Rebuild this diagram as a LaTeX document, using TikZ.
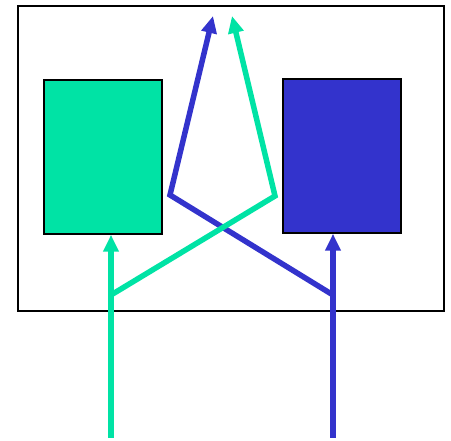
\documentclass[tikz,border=0pt]{standalone}
\usetikzlibrary{arrows.meta}
\definecolor{mint}{HTML}{00E3A5}
\definecolor{indigo}{HTML}{3333CC}
\tikzset{
  box/.style={draw=black, line width=1.5pt, minimum width=118pt, minimum height=154pt, inner sep=0pt},
  wire/.style={line width=5.5pt},
  tip/.style={-{Triangle[width=15pt,length=17pt]}}
}
\begin{document}
\begin{tikzpicture}[x=1pt,y=-1pt]
            \useasboundingbox (0,0) rectangle (451,441);
            \node[draw=black, line width=1.5pt, minimum width=426pt, minimum height=305pt, inner sep=0pt] (frame) at (231,158.5) {};

            \node[box, fill=mint] (left) at (103,157) {};
            \node[box, fill=indigo] (right) at (342,156) {};

            \coordinate (gin) at (111,438);
            \coordinate (bin) at (333,438);
            \coordinate (gsplit) at (111,295);
            \coordinate (bsplit) at (333,295);
            \coordinate (gbend) at (275,196);
            \coordinate (bbend) at (170,195);
            \coordinate (gout) at (232,16);
            \coordinate (bout) at (213,16);

            \draw[wire, mint, tip] (gin) -- (gin |- left.south);
            \draw[wire, indigo, tip] (bin) -- (bin |- right.south);
            \draw[wire, indigo, tip] (bsplit) -- (bbend) -- (bout);
            \draw[wire, mint, tip] (gsplit) -- (gbend) -- (gout);
        \end{tikzpicture}
\end{document}
